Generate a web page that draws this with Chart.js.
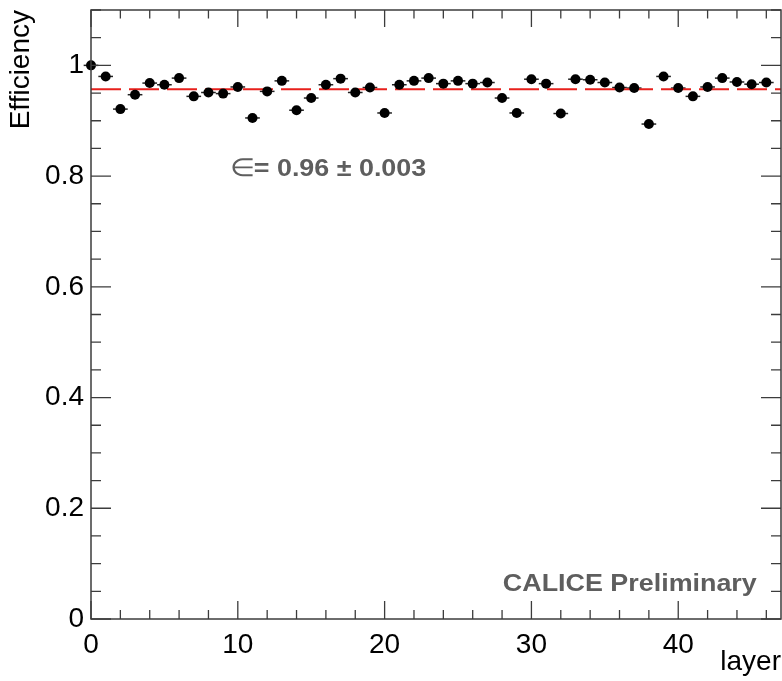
<!DOCTYPE html>
<html>
<head>
<meta charset="utf-8">
<title>Efficiency per layer</title>
<script src="https://cdn.jsdelivr.net/npm/chart.js@4.4.1/dist/chart.umd.min.js"></script>
<style>
  body { margin: 0; background: #fff; }
  canvas { display: block; }
</style>
</head>
<body>
<canvas id="myChart" width="782" height="681"></canvas>
<script>
"use strict";

// data
const layers = [
  0, 1, 2, 3, 4, 5, 6, 7, 8, 9, 10, 11, 12, 13, 14, 15, 16, 17, 18, 19, 20, 21, 22, 23,
  24, 25, 26, 27, 28, 29, 30, 31, 32, 33, 34, 35, 36, 37, 38, 39, 40, 41, 42, 43, 44, 45, 46,
];
const efficiency = [
  1.0, 0.98, 0.921, 0.947, 0.968, 0.965, 0.977, 0.944, 0.951, 0.949, 0.961, 0.905,
  0.953, 0.972, 0.919, 0.941, 0.965, 0.976, 0.951, 0.96, 0.914, 0.965, 0.972, 0.977,
  0.967, 0.972, 0.967, 0.969, 0.941, 0.914, 0.975, 0.967, 0.913, 0.975, 0.974, 0.969,
  0.96, 0.959, 0.894, 0.98, 0.959, 0.944, 0.961, 0.977, 0.97, 0.966, 0.969,
];
const binHalfWidth = 0.5;
const fitValue = 0.957;

const xRange = [0, 47];
const yRange = [0, 1.1];
const xTicks = [0, 10, 20, 30, 40];
const yTicks = [0, 0.2, 0.4, 0.6, 0.8, 1];

const FONT = "'Liberation Sans', Arial, Helvetica, sans-serif";
const AXIS_COLOR = "#3c3c3c";

let points = layers.map((l, i) => ({ x: l, y: efficiency[i] }));

// horizontal bars (bin width) under each marker
const errorBars = {
  id: "errorBars",
  beforeDatasetsDraw(chart) {
    const ctx = chart.ctx;
    const xs = chart.scales.x;
    const ys = chart.scales.y;
    ctx.save();
    ctx.strokeStyle = "#222";
    ctx.lineWidth = 1.5;
    points.forEach((p) => {
      let y = ys.getPixelForValue(p.y);
      ctx.beginPath();
      ctx.moveTo(xs.getPixelForValue(p.x - binHalfWidth), y);
      ctx.lineTo(xs.getPixelForValue(p.x + binHalfWidth), y);
      ctx.stroke();
    });
    ctx.restore();
  },
};

// text stretched a bit sideways, like the original picture
function wideText(ctx, text, x, y, stretch) {
  ctx.save();
  ctx.translate(x, y);
  ctx.scale(stretch, 1);
  ctx.fillText(text, 0, 0);
  let w = ctx.measureText(text).width * stretch;
  ctx.restore();
  return w;
}

// ROOT-like frame with ticks on all four sides, pointing inwards
const frame = {
  id: "frame",
  afterDraw(chart) {
    const ctx = chart.ctx;
    const a = chart.chartArea;
    const xs = chart.scales.x;
    const ys = chart.scales.y;
    ctx.save();
    ctx.strokeStyle = AXIS_COLOR;
    ctx.lineWidth = 1.5;
    ctx.strokeRect(a.left, a.top, a.right - a.left, a.bottom - a.top);

    ctx.lineWidth = 1.3;
    for (let v = xRange[0]; v <= xRange[1]; v += 2) {
      let x = xs.getPixelForValue(v);
      let len = v % 10 === 0 ? 18 : 9;
      ctx.beginPath();
      ctx.moveTo(x, a.bottom);
      ctx.lineTo(x, a.bottom - len);
      ctx.moveTo(x, a.top);
      ctx.lineTo(x, a.top + len * 0.95);
      ctx.stroke();
    }
    for (let i = 0; i * 0.05 <= yRange[1] + 1e-9; i++) {
      let y = ys.getPixelForValue(i * 0.05);
      let len = i % 4 === 0 ? 20 : 10;
      ctx.beginPath();
      ctx.moveTo(a.left, y);
      ctx.lineTo(a.left + len, y);
      ctx.moveTo(a.right, y);
      ctx.lineTo(a.right - len, y);
      ctx.stroke();
    }

    // labels inside the pad
    ctx.fillStyle = "#5e5e5e";
    ctx.textBaseline = "middle";
    ctx.textAlign = "left";
    let tx = xs.getPixelForValue(9.5);
    let ty = ys.getPixelForValue(0.813);
    ctx.font = "25px " + FONT;
    let w = wideText(ctx, "\u2208", tx, ty, 1.15);
    ctx.font = "bold 24px " + FONT;
    wideText(ctx, "= 0.96 \u00b1 0.003", tx + w - 2, ty, 1.12);

    ctx.font = "bold 24px " + FONT;
    let label = "CALICE Preliminary";
    let lw = ctx.measureText(label).width * 1.12;
    wideText(ctx, label, xs.getPixelForValue(45.35) - lw, ys.getPixelForValue(0.063), 1.12);
    ctx.restore();
  },
};

const ctx = document.getElementById("myChart");

new Chart(ctx, {
  type: "scatter",
  data: {
    datasets: [
      {
        label: "efficiency",
        data: points,
        pointRadius: 5,
        pointHoverRadius: 5,
        backgroundColor: "#000",
        borderWidth: 0,
        clip: false,
        order: 1,
      },
      {
        type: "line",
        label: "fit",
        data: [
          { x: xRange[0], y: fitValue },
          { x: xRange[1], y: fitValue },
        ],
        borderColor: "#e8201c",
        borderWidth: 2,
        borderDash: [30, 8],
        pointRadius: 0,
        fill: false,
        order: 2,
      },
    ],
  },
  options: {
    responsive: false,
    devicePixelRatio: 1,
    animation: false,
    layout: { autoPadding: false, padding: { top: 10, right: 1, left: 0, bottom: 0 } },
    plugins: {
      legend: { display: false },
      tooltip: { enabled: false },
    },
    scales: {
      x: {
        type: "linear",
        min: xRange[0],
        max: xRange[1],
        afterBuildTicks: (scale) => {
          scale.ticks = xTicks.map((v) => ({ value: v }));
        },
        afterFit: (scale) => {
          scale.height = 62;
          scale.paddingLeft = 0;
          scale.paddingRight = 0;
        },
        grid: { display: false, drawTicks: false },
        border: { display: false },
        ticks: {
          color: "#000",
          padding: 9,
          maxRotation: 0,
          font: { family: FONT, size: 28 },
        },
        title: {
          display: true,
          text: "layer",
          align: "end",
          color: "#000",
          padding: { top: 0, bottom: 2 },
          font: { family: FONT, size: 28 },
        },
      },
      y: {
        type: "linear",
        min: yRange[0],
        max: yRange[1],
        afterBuildTicks: (scale) => {
          scale.ticks = yTicks.map((v) => ({ value: v }));
        },
        afterFit: (scale) => {
          scale.width = 91;
          scale.paddingTop = 0;
          scale.paddingBottom = 0;
        },
        grid: { display: false, drawTicks: false },
        border: { display: false },
        ticks: {
          color: "#000",
          padding: 7,
          font: { family: FONT, size: 28 },
          callback: (v) => (v === 0 || v === 1 ? String(v) : v.toFixed(1)),
        },
        title: {
          display: true,
          text: "Efficiency",
          align: "end",
          color: "#000",
          padding: { top: 4, bottom: 0 },
          font: { family: FONT, size: 28 },
        },
      },
    },
  },
  plugins: [errorBars, frame],
});
</script>
</body>
</html>
